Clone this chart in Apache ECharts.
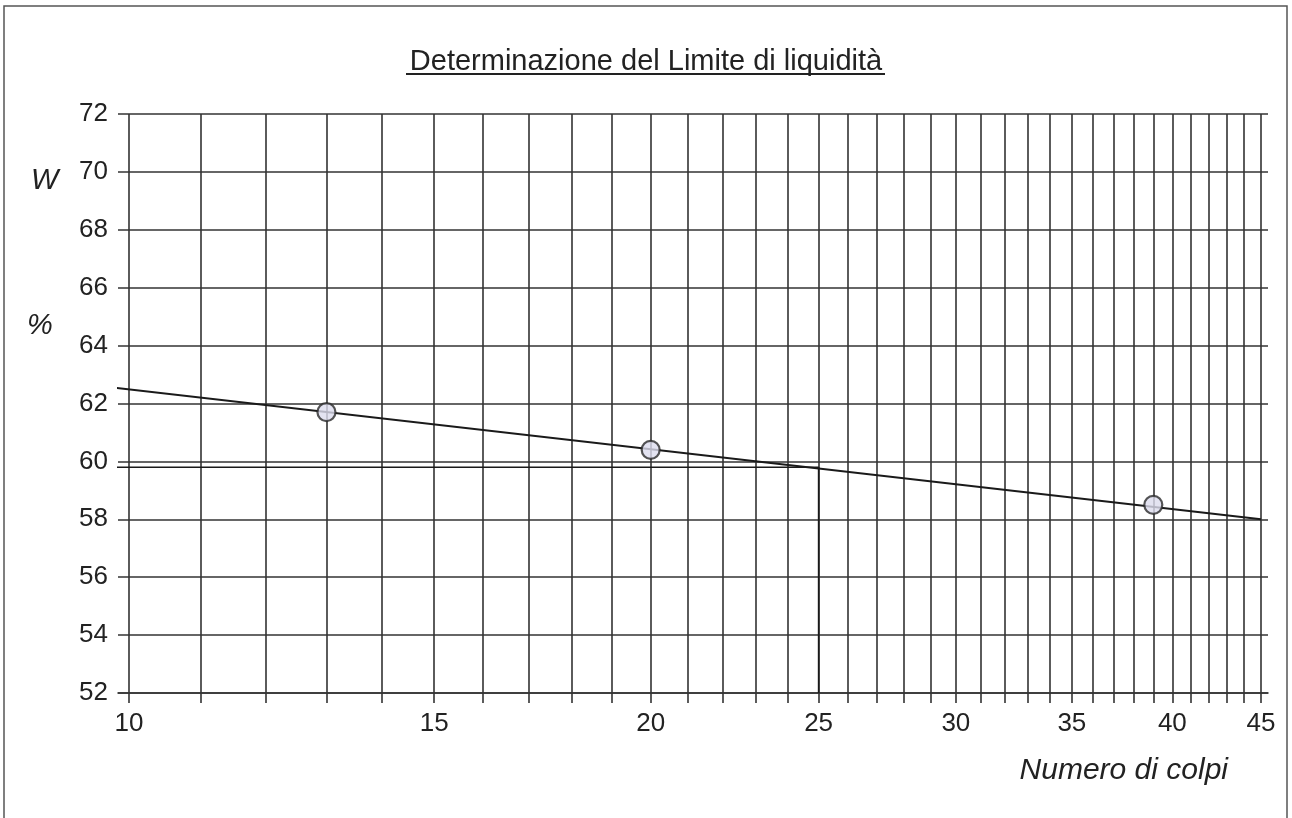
<!DOCTYPE html>
<html>
<head>
<meta charset="utf-8">
<script src="https://cdn.jsdelivr.net/npm/echarts@6/dist/echarts.min.js"></script>
<style>html,body{margin:0;padding:0;background:#fff;}#c{width:1292px;height:818px;}</style>
</head>
<body>
<div id="c"></div>
<script>
// ---- data ----
var titleText = 'Determinazione del Limite di liquidità';
var xName = 'Numero di colpi';
var blows = [13, 20, 39];            // Numero di colpi
var water = [61.7, 60.4, 58.5];      // W %
var trendX = [9.75, 45];             // regression line ends
var trendY = [62.56, 58.0];
var liquidLimit = 59.8;              // W at 25 blows
var llBlows = 25;
var gridTicks = [];                  // every integer 10..45
for (var i = 10; i <= 45; i++) gridTicks.push(i);
var xLabels = [10, 15, 20, 25, 30, 35, 40, 45];
var yMin = 52, yMax = 72, yStep = 2;

var lineColor = '#333333';
var font = '"Liberation Sans", Arial, sans-serif';

var chart = echarts.init(document.getElementById('c'), null, {renderer: 'canvas'});
chart.setOption({
  backgroundColor: '#fff',
  animation: false,
  title: {
    text: titleText, left: 'center', top: 42,
    textStyle: {fontFamily: font, fontSize: 29, fontWeight: 'normal', color: '#222'}
  },
  grid: {left: 118, right: 24, top: 114, bottom: 125, containLabel: false},
  xAxis: {
    type: 'log', logBase: 10, min: 9.855, max: 45.42,
    axisLine: {show: true, lineStyle: {color: lineColor, width: 1.6}},
    axisTick: {show: true, customValues: gridTicks, length: 10, inside: false,
               lineStyle: {color: lineColor, width: 1.6}},
    minorTick: {show: false},
    splitLine: {show: true, lineStyle: {color: lineColor, width: 1.6}},
    axisLabel: {customValues: xLabels, fontFamily: font, fontSize: 26, color: '#222', margin: 18,
                formatter: function (v) { return String(Math.round(v)); }}
  },
  yAxis: {
    type: 'value', min: yMin, max: yMax, interval: yStep,
    axisLine: {show: false}, axisTick: {show: false},
    splitLine: {show: true, lineStyle: {color: lineColor, width: 1.6}},
    axisLabel: {fontFamily: font, fontSize: 26, color: '#222', margin: 10}
  },
  series: [
    {
      type: 'line', clip: false, symbol: 'none', silent: true,
      data: [[trendX[0], trendY[0]], [trendX[1], trendY[1]]],
      lineStyle: {color: '#1a1a1a', width: 2}
    },
    {
      type: 'line', clip: false, symbol: 'none', silent: true,
      data: [[trendX[0], liquidLimit], [llBlows, liquidLimit], [llBlows, yMin]],
      lineStyle: {color: '#1a1a1a', width: 1.6}
    },
    {
      type: 'scatter', symbol: 'circle', symbolSize: 18, z: 5,
      data: blows.map(function (b, k) { return [b, water[k]]; }),
      itemStyle: {color: '#dcdcee', borderColor: '#2a2a2a', borderWidth: 2.2}
    }
  ],
  graphic: [
    {type: 'line', shape: {x1: 406, y1: 74, x2: 885, y2: 74}, style: {stroke: '#222', lineWidth: 2}},
    {type: 'text', left: 31, top: 166, style: {text: 'W', font: 'italic 29px ' + font, fill: '#222'}},
    {type: 'text', left: 27, top: 311, style: {text: '%', font: 'italic 29px ' + font, fill: '#222'}},
    {type: 'text', right: 64, top: 756, style: {text: xName, font: 'italic 30px ' + font, fill: '#222'}},
    {type: 'polyline', shape: {points: [[4, 818], [4, 6], [1287, 6], [1287, 818]]},
     style: {stroke: '#555', lineWidth: 1.5, fill: null}}
  ]
});
</script>
</body>
</html>
